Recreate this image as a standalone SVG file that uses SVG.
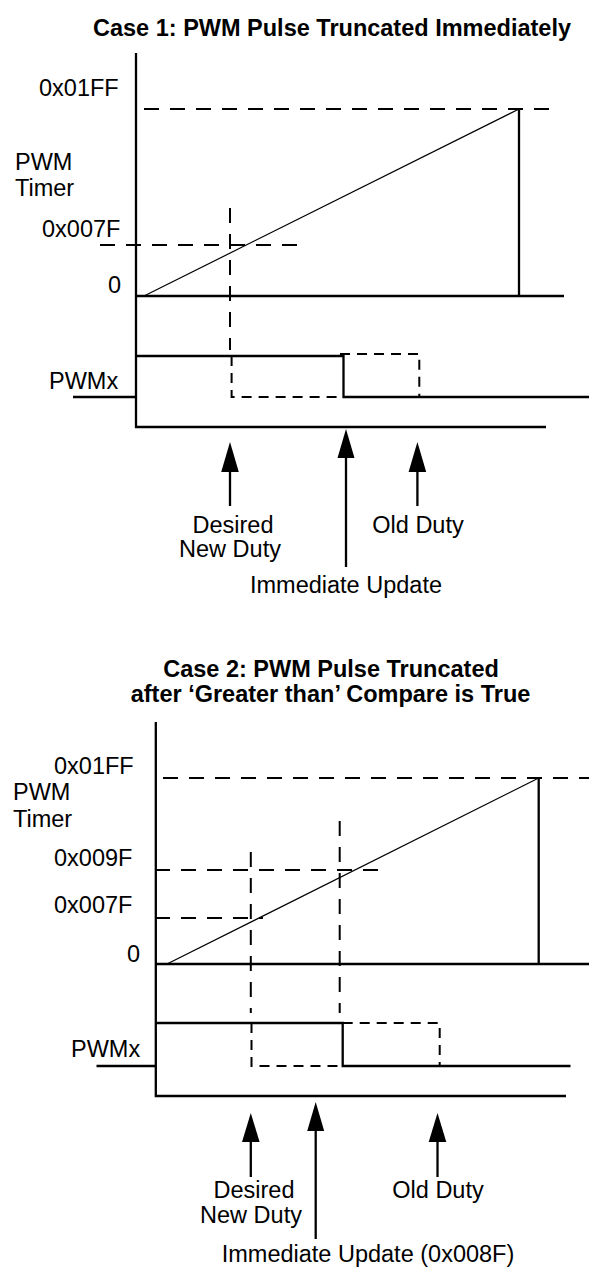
<svg xmlns="http://www.w3.org/2000/svg" width="589" height="1268" viewBox="0 0 589 1268">
<defs>
<style>
.t{font-family:"Liberation Sans",Arial,sans-serif;font-size:23.5px;fill:#000}
.b{font-weight:bold}
.m{text-anchor:middle}
.e{text-anchor:end}
.s{stroke:#000;stroke-width:2.3;fill:none}
.r{stroke:#000;stroke-width:1.2;fill:none}
.d{stroke:#000;stroke-width:2;fill:none;stroke-dasharray:15 11}
.q{stroke:#000;stroke-width:2;fill:none;stroke-dasharray:10 7}
.h{fill:#000}
</style>
</defs>
<rect width="589" height="1268" fill="#fff"/>

<g id="case1">
<text class="t b m" x="332" y="36">Case 1: PWM Pulse Truncated Immediately</text>
<g id="c1-axes">
<path class="s" d="M136 53V427H546"/>
<path class="s" d="M136 296H564"/>
</g>
<g id="c1-labels">
<text class="t" x="39" y="96">0x01FF</text>
<text class="t" x="15" y="170">PWM</text>
<text class="t" x="15" y="196">Timer</text>
<text class="t" x="42" y="237">0x007F</text>
<text class="t e" x="121" y="293">0</text>
<text class="t" x="49" y="389">PWMx</text>
</g>
<g id="c1-timer">
<path class="d" d="M144 109H555"/>
<path class="d" d="M100 245H308"/>
<path class="d" d="M230 208V350"/>
<path class="r" d="M144 296L519 109"/>
<path class="s" d="M519 109V296"/>
</g>
<g id="c1-pwm">
<path class="s" d="M73 397H136"/>
<path class="s" d="M136 356H343.5V397H589"/>
<path class="q" d="M231.6 356V397H340"/>
<path class="q" d="M340 354H419.3V397"/>
</g>
<g id="c1-arrows">
<path class="s" d="M230 470V506"/>
<path class="h" d="M230 442L221.2 472H238.8Z"/>
<path class="s" d="M346 456V567"/>
<path class="h" d="M346 429L337.5 458H354.5Z"/>
<path class="s" d="M417.4 470V506"/>
<path class="h" d="M417.4 442L408.6 472H426.2Z"/>
</g>
<g id="c1-notes">
<text class="t m" x="233" y="533">Desired</text>
<text class="t m" x="230" y="557">New Duty</text>
<text class="t m" x="418" y="533">Old Duty</text>
<text class="t m" x="346" y="593">Immediate Update</text>
</g>
</g>

<g id="case2">
<text class="t b m" x="331" y="677">Case 2: PWM Pulse Truncated</text>
<text class="t b m" x="330.5" y="702">after ‘Greater than’ Compare is True</text>
<g id="c2-axes">
<path class="s" d="M155.8 722V1096H566"/>
<path class="s" d="M155.8 964H589"/>
</g>
<g id="c2-labels">
<text class="t" x="54" y="774">0x01FF</text>
<text class="t" x="13" y="800">PWM</text>
<text class="t" x="13" y="827">Timer</text>
<text class="t" x="54" y="866">0x009F</text>
<text class="t" x="54" y="913">0x007F</text>
<text class="t e" x="140" y="962">0</text>
<text class="t" x="71" y="1057">PWMx</text>
</g>
<g id="c2-timer">
<path class="d" d="M163 778H589"/>
<path class="d" d="M155 870H381"/>
<path class="d" d="M155 918H263"/>
<path class="d" d="M250.8 852V1013"/>
<path class="d" d="M339.7 821V1013"/>
<path class="r" d="M167 964L538.7 778"/>
<path class="s" d="M538.7 778V964"/>
</g>
<g id="c2-pwm">
<path class="s" d="M96.5 1066H155.8"/>
<path class="s" d="M155.8 1023H342.7V1066H570.5"/>
<path class="q" d="M251.5 1023V1066H340"/>
<path class="q" d="M342.7 1023H439.7V1066"/>
</g>
<g id="c2-arrows">
<path class="s" d="M250.8 1140V1177"/>
<path class="h" d="M250.8 1113L242 1142H259.6Z"/>
<path class="s" d="M315.7 1129V1239"/>
<path class="h" d="M315.7 1102L307.2 1131H324.2Z"/>
<path class="s" d="M437.5 1140V1177"/>
<path class="h" d="M437.5 1113L428.7 1142H446.3Z"/>
</g>
<g id="c2-notes">
<text class="t m" x="254" y="1198">Desired</text>
<text class="t m" x="251" y="1223">New Duty</text>
<text class="t m" x="438" y="1198">Old Duty</text>
<text class="t m" x="368" y="1262">Immediate Update (0x008F)</text>
</g>
</g>
</svg>
